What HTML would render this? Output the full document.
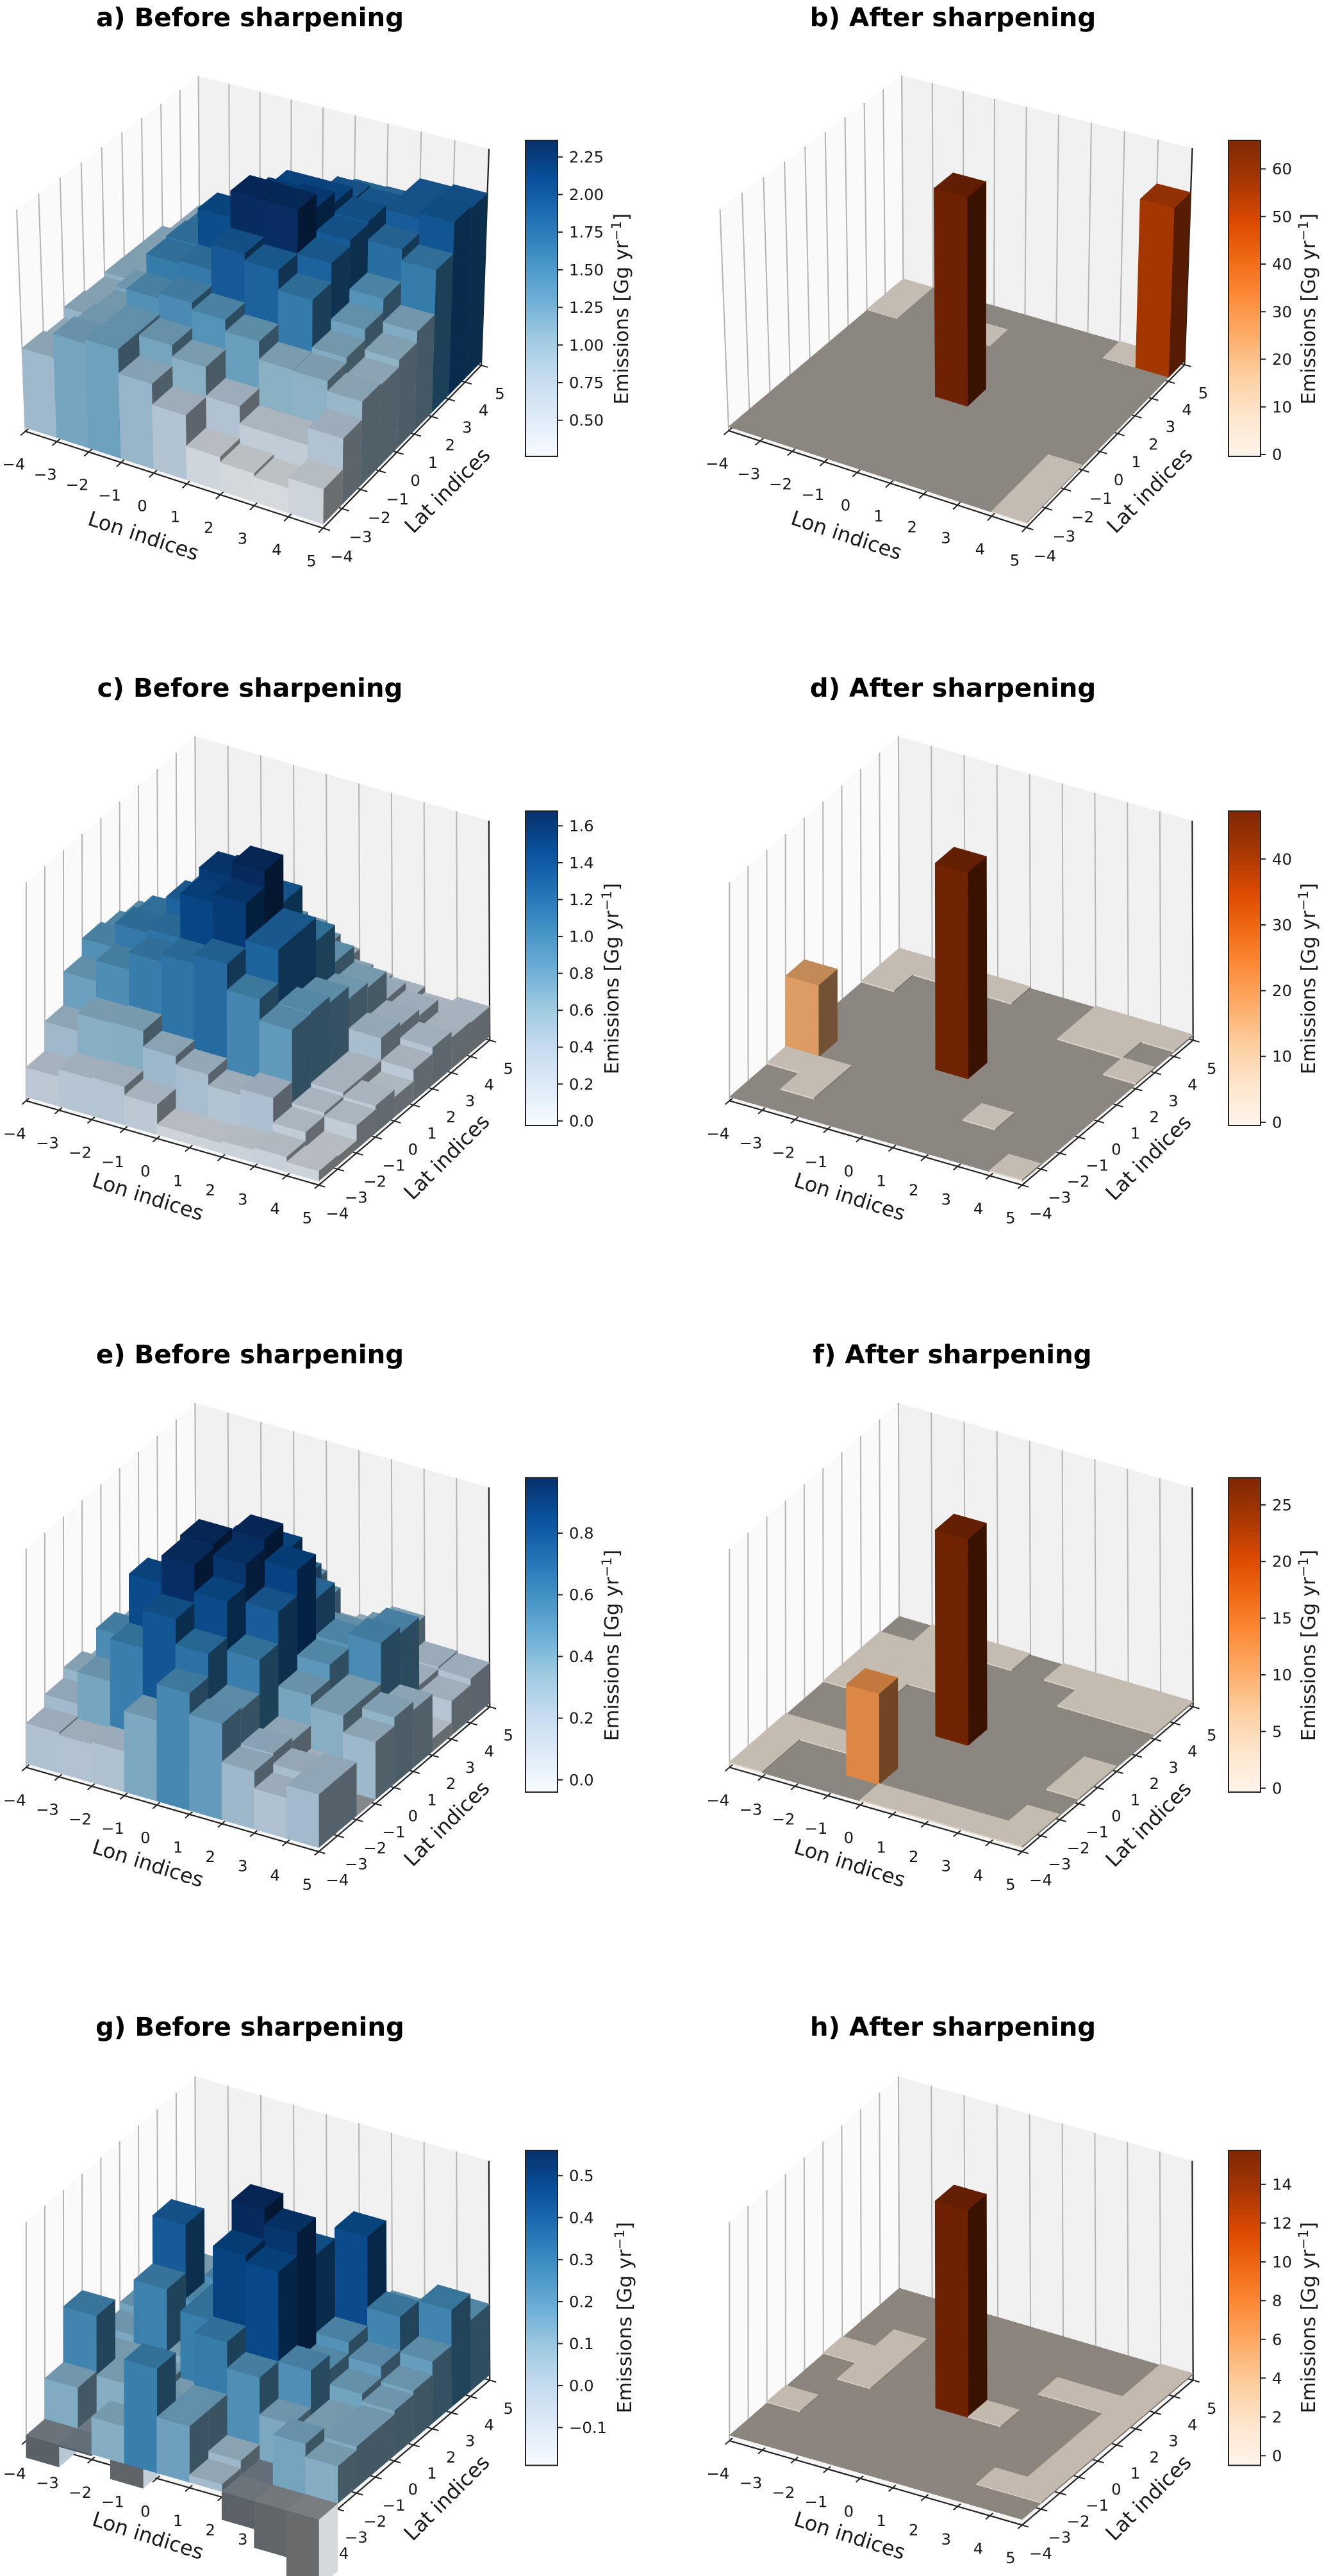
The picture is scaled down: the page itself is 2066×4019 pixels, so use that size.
<!DOCTYPE html>
<html>
<head>
<meta charset="utf-8">
<title>Emissions before and after sharpening</title>
<style>
html,body{margin:0;padding:0;background:#fff;}
svg{display:block;}
text{font-family:"DejaVu Sans","Liberation Sans",sans-serif;fill:#1a1a1a;}
.title{font-size:40.3px;font-weight:bold;fill:#000;text-anchor:middle;}
.axl{font-size:32px;text-anchor:middle;dominant-baseline:central;}
.cbl{font-size:30.4px;text-anchor:middle;}
</style>
</head>
<body>
<svg id="fig" xmlns="http://www.w3.org/2000/svg" width="2066" height="4019" viewBox="0 0 2066 4019">
<rect x="0" y="0" width="2066" height="4019" fill="#fff"/>

<text class="title" x="390" y="41">a) Before sharpening</text>
<text class="title" x="1487" y="41">b) After sharpening</text>
<text class="title" x="390" y="1087">c) Before sharpening</text>
<text class="title" x="1487" y="1087">d) After sharpening</text>
<text class="title" x="390" y="2127">e) Before sharpening</text>
<text class="title" x="1486" y="2127">f) After sharpening</text>
<text class="title" x="390" y="3176">g) Before sharpening</text>
<text class="title" x="1487" y="3176">h) After sharpening</text>

<text class="axl" transform="translate(224,836) rotate(18.3)">Lon indices</text>
<text class="axl" transform="translate(1321,835) rotate(18.3)">Lon indices</text>
<text class="axl" transform="translate(231,1867) rotate(17.5)">Lon indices</text>
<text class="axl" transform="translate(1326,1867) rotate(17.5)">Lon indices</text>
<text class="axl" transform="translate(231,2907) rotate(17.5)">Lon indices</text>
<text class="axl" transform="translate(1326,2907) rotate(17.5)">Lon indices</text>
<text class="axl" transform="translate(231,3956) rotate(17.5)">Lon indices</text>
<text class="axl" transform="translate(1326,3956) rotate(17.5)">Lon indices</text>

<text class="axl" transform="translate(698,765) rotate(-45)">Lat indices</text>
<text class="axl" transform="translate(1794,765) rotate(-45)">Lat indices</text>
<text class="axl" transform="translate(697,1805) rotate(-45)">Lat indices</text>
<text class="axl" transform="translate(1792,1806) rotate(-45)">Lat indices</text>
<text class="axl" transform="translate(697,2845) rotate(-45)">Lat indices</text>
<text class="axl" transform="translate(1792,2846) rotate(-45)">Lat indices</text>
<text class="axl" transform="translate(697,3897) rotate(-45)">Lat indices</text>
<text class="axl" transform="translate(1792,3897) rotate(-45)">Lat indices</text>

<text class="cbl" transform="translate(980,482) rotate(-90)">Emissions [Gg yr<tspan dy="-11" font-size="21">−1</tspan><tspan dy="11">]</tspan></text>
<text class="cbl" transform="translate(2052,482) rotate(-90)">Emissions [Gg yr<tspan dy="-11" font-size="21">−1</tspan><tspan dy="11">]</tspan></text>
<text class="cbl" transform="translate(965,1527) rotate(-90)">Emissions [Gg yr<tspan dy="-11" font-size="21">−1</tspan><tspan dy="11">]</tspan></text>
<text class="cbl" transform="translate(2052,1527) rotate(-90)">Emissions [Gg yr<tspan dy="-11" font-size="21">−1</tspan><tspan dy="11">]</tspan></text>
<text class="cbl" transform="translate(965,2567) rotate(-90)">Emissions [Gg yr<tspan dy="-11" font-size="21">−1</tspan><tspan dy="11">]</tspan></text>
<text class="cbl" transform="translate(2052,2567) rotate(-90)">Emissions [Gg yr<tspan dy="-11" font-size="21">−1</tspan><tspan dy="11">]</tspan></text>
<text class="cbl" transform="translate(985,3616) rotate(-90)">Emissions [Gg yr<tspan dy="-11" font-size="21">−1</tspan><tspan dy="11">]</tspan></text>
<text class="cbl" transform="translate(2052,3616) rotate(-90)">Emissions [Gg yr<tspan dy="-11" font-size="21">−1</tspan><tspan dy="11">]</tspan></text>
</svg>

<script>
// Tick categories
const lonCategories = [-4,-3,-2,-1,0,1,2,3,4,5];
const latCategories = [-4,-3,-2,-1,0,1,2,3,4,5];

// Emission grids: rows run from lat -4 (front) to lat 4, columns lon -4 to 4
const emissionsA = [
 [.89,1.16,1.21,.94,.71,.37,.31,.27,.38],
 [.85,1.12,1.21,1.17,1.04,.72,.53,.53,.72],
 [.97,1.09,1.39,1.45,1.37,1.24,1.04,1.03,.92],
 [.95,1.13,1.60,1.63,1.92,1.84,1.62,1.09,.90],
 [1.0,1.0,1.62,2.04,2.34,2.33,1.84,1.21,.98],
 [1.0,1.0,1.6,1.8,2.14,2.17,1.91,1.36,1.1],
 [1.0,1.0,1.4,1.6,2.05,2.05,1.94,1.73,1.6],
 [.9,1.0,1.2,1.5,1.7,1.9,1.87,1.9,1.96],
 [.9,.9,1.1,1.4,1.5,1.7,1.71,1.9,1.93]
];
const emissionsB = [
 [0,0,0,0,0,0,0,0,.3],
 [0,0,0,0,0,0,0,0,.3],
 [0,0,0,0,0,0,0,0,.3],
 [0,0,0,0,0,0,0,0,0],
 [0,0,0,0,66,0,0,0,0],
 [0,0,0,0,0,0,0,0,0],
 [0,0,0,0,0,0,0,0,0],
 [.3,0,0,.3,0,0,0,0,0],
 [.3,0,0,0,0,0,0,.3,54]
];
const emissionsC = [
 [.24,.30,.31,.24,.08,.08,.10,.12,.08],
 [.48,.62,.63,.50,.43,.34,.39,.19,.07],
 [.75,.92,1.06,1.12,1.19,.98,.81,.22,.19],
 [.89,1.09,1.12,1.48,1.55,1.25,.82,.25,.22],
 [.85,1.05,1.25,1.56,1.68,1.25,.77,.25,.16],
 [.8,.94,1.19,1.4,1.3,1.06,.67,.43,.25],
 [.7,.8,1.0,1.1,.85,.76,.63,.4,.3],
 [.5,.6,.8,.75,.65,.48,.41,.35,.25],
 [.4,.5,.6,.55,.4,.27,.25,.2,.24]
];
const emissionsD = [
 [0,0,0,0,0,0,0,0,.4],
 [0,.4,0,0,0,0,0,0,0],
 [.4,.4,0,0,0,0,.4,0,0],
 [16.5,0,0,0,0,0,0,0,0],
 [0,0,0,0,47,0,0,0,0],
 [0,0,0,0,0,0,0,0,0],
 [0,0,0,0,0,0,0,0,.4],
 [.4,0,0,0,0,0,.4,.4,0],
 [.4,.4,.4,.4,0,0,.4,.4,.4]
];
const emissionsE = [
 [.19,.18,.19,.38,.55,.45,.27,.19,.25],
 [.25,.40,.60,.78,.66,.44,.28,.23,.25],
 [.30,.53,.83,.96,.83,.60,.26,.15,0],
 [.25,.35,.60,.98,.93,.75,.40,.35,.27],
 [.3,.35,.78,.85,.97,.87,.47,.35,.31],
 [.3,.35,.6,.8,.83,.66,.49,.54,.27],
 [.3,.3,.5,.7,.63,.42,.42,.51,.06],
 [.2,.25,.4,.55,.44,.32,.37,.19,.16],
 [.2,.2,.3,.4,.22,.24,.32,.2,.19]
];
const emissionsF = [
 [.2,0,0,0,.2,.2,.2,.2,.2],
 [.2,0,0,12,0,0,0,0,.2],
 [.2,.2,.2,0,0,0,0,0,0],
 [0,0,0,0,0,0,0,0,.2],
 [0,0,0,0,27.2,0,0,0,.2],
 [.2,.2,0,0,0,0,0,0,0],
 [.2,.2,.2,0,0,0,0,0,0],
 [.2,.2,.2,0,0,0,.2,.2,.2],
 [0,.2,.2,.2,0,.2,.2,.2,.2]
];
const emissionsG = [
 [-.06,-.005,.10,.28,.15,.02,-.075,-.125,-.18],
 [.11,0,-.11,.12,.15,.04,-.005,.135,.10],
 [.26,.10,.12,.10,.29,.22,.12,.10,.11],
 [.10,.10,.08,.28,.48,.46,.22,.10,.11],
 [.12,.27,.10,.28,.56,.52,.18,.14,.12],
 [.14,.40,.20,.20,.30,.42,.21,.17,.13],
 [.10,.10,.22,.15,.25,.20,.45,.26,.165],
 [.08,.12,.20,.15,.15,.15,.2,.15,.26],
 [.10,.10,.12,.10,.1,.1,.15,.15,.19]
];
const emissionsH = [
 [0,0,0,0,0,0,0,0,0],
 [0,0,0,0,0,0,0,.1,.1],
 [.1,0,0,0,0,0,0,0,.1],
 [0,0,0,0,0,0,0,0,.1],
 [0,.1,0,0,15.7,.1,0,0,.1],
 [.1,.1,0,0,0,0,0,0,.1],
 [0,.1,0,0,0,0,.1,.1,.1],
 [0,0,0,0,0,0,0,0,.1],
 [0,0,0,0,0,0,0,0,.1]
];

// Colorbar tick labels
const cbarTicksA = ['0.50','0.75','1.00','1.25','1.50','1.75','2.00','2.25'];
const cbarTicksB = ['0','10','20','30','40','50','60'];
const cbarTicksC = ['0.0','0.2','0.4','0.6','0.8','1.0','1.2','1.4','1.6'];
const cbarTicksD = ['0','10','20','30','40'];
const cbarTicksE = ['0.0','0.2','0.4','0.6','0.8'];
const cbarTicksF = ['0','5','10','15','20','25'];
const cbarTicksG = ['-0.1','0.0','0.1','0.2','0.3','0.4','0.5'];
const cbarTicksH = ['0','2','4','6','8','10','12','14'];

// Colorbar ranges [min, max]
const rangeA = [0.26,2.36];
const rangeB = [-0.4,66];
const rangeC = [-0.025,1.68];
const rangeD = [-0.5,47.3];
const rangeE = [-0.04,0.98];
const rangeF = [-0.35,27.4];
const rangeG = [-0.19,0.56];
const rangeH = [-0.5,15.75];

// Colormap anchors
const blues = ['#f7fbff','#deebf7','#c6dbef','#9ecae1','#6baed6','#4292c6','#2171b5','#08519c','#08306b'];
const oranges = ['#fff5eb','#fee6ce','#fdd0a2','#fdae6b','#fd8d3c','#f16913','#d94801','#a63603','#7f2704'];

const SVGNS = 'http://www.w3.org/2000/svg';
const fig = document.getElementById('fig');

function hex2rgb(h){return [parseInt(h.slice(1,3),16),parseInt(h.slice(3,5),16),parseInt(h.slice(5,7),16)];}
function cmap(list,t){
  t=Math.max(0,Math.min(1,t))*(list.length-1);
  const k=Math.min(list.length-2,Math.floor(t)),f=t-k;
  const a=hex2rgb(list[k]),b=hex2rgb(list[k+1]);
  return [0,1,2].map(c=>a[c]+(b[c]-a[c])*f);
}
function css(rgb,s){return 'rgb('+rgb.map(c=>Math.round(c*s)).join(',')+')';}

// Square to quad projective mapping for a plane of the 3D box
function homography(q){
  const [p0,p1,p2,p3]=q;
  const dx1=p1[0]-p2[0],dx2=p3[0]-p2[0],dx3=p0[0]-p1[0]+p2[0]-p3[0];
  const dy1=p1[1]-p2[1],dy2=p3[1]-p2[1],dy3=p0[1]-p1[1]+p2[1]-p3[1];
  const den=dx1*dy2-dx2*dy1;
  const g=(dx3*dy2-dx2*dy3)/den,h=(dx1*dy3-dx3*dy1)/den;
  const a=p1[0]-p0[0]+g*p1[0],b=p3[0]-p0[0]+h*p3[0],c=p0[0];
  const d=p1[1]-p0[1]+g*p1[1],e=p3[1]-p0[1]+h*p3[1],f=p0[1];
  return (u,v)=>{const w=g*u+h*v+1;return [(a*u+b*v+c)/w,(d*u+e*v+f)/w];};
}

// Box frames: floor and top quads as [lon-min/lat-min, lon-max/lat-min, lon-max/lat-max, lon-min/lat-max]
const frameWide = {
  floor:[[39.5,673],[504,824],[751,570],[312,443]],
  top:[[26,327],[507.6,467],[763,232],[309.6,119]]
};
const frameNarrow = {
  floor:[[40.8,1717.4],[497.4,1848.9],[764.2,1622.9],[305.7,1487.8]],
  top:[[40.8,1376.3],[497.4,1504.7],[762.9,1280.5],[304.4,1149]]
};

function addPoly(parent,pts,fill,stroke){
  const el=document.createElementNS(SVGNS,'polygon');
  el.setAttribute('points',pts.map(p=>p[0].toFixed(1)+','+p[1].toFixed(1)).join(' '));
  el.setAttribute('fill',fill);
  if(stroke){el.setAttribute('stroke',stroke);el.setAttribute('stroke-width','0.6');}
  parent.appendChild(el);
  return el;
}
function addLine(parent,a,b,color,w){
  const el=document.createElementNS(SVGNS,'line');
  el.setAttribute('x1',a[0].toFixed(1));el.setAttribute('y1',a[1].toFixed(1));
  el.setAttribute('x2',b[0].toFixed(1));el.setAttribute('y2',b[1].toFixed(1));
  el.setAttribute('stroke',color);el.setAttribute('stroke-width',w);
  parent.appendChild(el);
  return el;
}
function addText(parent,x,y,str,anchor){
  const el=document.createElementNS(SVGNS,'text');
  el.setAttribute('x',x.toFixed(1));el.setAttribute('y',y.toFixed(1));
  el.setAttribute('font-size','24.3');
  el.setAttribute('text-anchor',anchor);
  el.setAttribute('dominant-baseline','central');
  el.textContent=str;
  parent.appendChild(el);
  return el;
}
function fmtTick(v){return String(v).replace('-','\u2212');}

function drawPanel(id,grid,range,ticks,colors,frame,dx,dy,opts){
  const g=document.createElementNS(SVGNS,'g');
  
  
  g.setAttribute('transform','translate('+dx+','+dy+')');
  fig.appendChild(g);

  const F=homography(frame.floor),T=homography(frame.top);
  const P=(u,v,t)=>{const a=F(u,v),b=T(u,v);return [a[0]+(b[0]-a[0])*t,a[1]+(b[1]-a[1])*t];};
  const vmin=range[0],vmax=range[1];
  const Z=v=>opts.t0+opts.s*v/vmax;
  const norm=v=>(v-vmin)/(vmax-vmin);
  const n=lonCategories.length-1;
  const lonU=x=>(x-lonCategories[0])/n;
  const latV=y=>(y-latCategories[0])/n;

  // Panes
  const pane=document.createElementNS(SVGNS,'g');
  
  
  g.appendChild(pane);
  const leftWall=addPoly(pane,[P(0,0,0),P(0,1,0),P(0,1,1),P(0,0,1)],'#fafafa');
  
  
  const backWall=addPoly(pane,[P(0,1,0),P(1,1,0),P(1,1,1),P(0,1,1)],'#f1f1f1');
  
  
  const floorPane=addPoly(pane,[P(0,0,0),P(1,0,0),P(1,1,0),P(0,1,0)],'#f5f5f5');
  
  

  // Vertical grid lines
  latCategories.forEach(y=>{
    const v=latV(y);
    const l=addLine(pane,P(0,v,0),P(0,v,1),'#b4b4b4',2);
    
    
  });
  lonCategories.forEach(x=>{
    const u=lonU(x);
    const l=addLine(pane,P(u,1,0),P(u,1,1),'#b4b4b4',2);
    
    
  });
  const edge=addLine(pane,P(1,1,0),P(1,1,1),'#222',2.2);
  
  

  // Axes lines, ticks and labels
  const axes=document.createElementNS(SVGNS,'g');
  
  
  g.appendChild(axes);
  const xLine=addLine(axes,P(0,0,0),P(1,0,0),'#222',2.2);
  
  
  const yLine=addLine(axes,P(1,0,0),P(1,1,0),'#222',2.2);
  
  
  lonCategories.forEach(x=>{
    const u=lonU(x);
    const tk=addLine(axes,P(u,-0.025,0),P(u,0.018,0),'#222',2);
    
    
    const p=P(u,0,0);
    const lab=addText(axes,p[0]-18,p[1]+51,fmtTick(x),'middle');
    
    
  });
  latCategories.forEach(y=>{
    const v=latV(y);
    const tk=addLine(axes,P(0.975,v,0),P(1.022,v,0),'#222',2);
    
    
    const p=P(1,v,0);
    const lab=addText(axes,p[0]+29,p[1]+44,fmtTick(y),'middle');
    
    
  });

  // Bars, painted from back to front
  for(let j=grid.length-1;j>=0;j--){
    for(let i=0;i<grid[j].length;i++){
      const val=grid[j][i];
      const u0=i/n,u1=(i+1)/n,v0=j/n,v1=(j+1)/n;
      const base=Z(0),end=Z(val);
      const rgb=cmap(colors,norm(val));
      const bar=document.createElementNS(SVGNS,'g');
      
      
      g.appendChild(bar);
      if(val>0){
        const ct=css(rgb,.77),cr=css(rgb,.45),cf=css(rgb,.87);
        addPoly(bar,[P(u1,v0,base),P(u1,v1,base),P(u1,v1,end),P(u1,v0,end)],cr,cr);
        addPoly(bar,[P(u0,v0,base),P(u1,v0,base),P(u1,v0,end),P(u0,v0,end)],cf,cf);
        addPoly(bar,[P(u0,v0,end),P(u1,v0,end),P(u1,v1,end),P(u0,v1,end)],ct,ct);
      }else if(val<0){
        const ct=css(rgb,.5),cr=css(rgb,.87),cf=css(rgb,.42);
        addPoly(bar,[P(u1,v0,base),P(u1,v1,base),P(u1,v1,end),P(u1,v0,end)],cr,cr);
        addPoly(bar,[P(u0,v0,base),P(u1,v0,base),P(u1,v0,end),P(u0,v0,end)],cf,cf);
        addPoly(bar,[P(u0,v0,base),P(u1,v0,base),P(u1,v1,base),P(u0,v1,base)],ct,ct);
      }else{
        const ct=css(rgb,.55);
        addPoly(bar,[P(u0,v0,base),P(u1,v0,base),P(u1,v1,base),P(u0,v1,base)],ct,ct);
      }
    }
  }

  // Colorbar
  const cb=document.createElementNS(SVGNS,'g');
  
  
  fig.appendChild(cb);
  const gradId='grad-'+id;
  const defs=document.createElementNS(SVGNS,'defs');
  const lg=document.createElementNS(SVGNS,'linearGradient');
  lg.setAttribute('id',gradId);
  lg.setAttribute('x1','0');lg.setAttribute('y1','1');lg.setAttribute('x2','0');lg.setAttribute('y2','0');
  colors.forEach((c,k)=>{
    const st=document.createElementNS(SVGNS,'stop');
    st.setAttribute('offset',(k/(colors.length-1)).toFixed(4));
    st.setAttribute('stop-color',c);
    lg.appendChild(st);
  });
  defs.appendChild(lg);
  cb.appendChild(defs);
  const bx=opts.cbX,bw=50,by=opts.cbTop,bh=opts.cbBottom-opts.cbTop;
  const rect=document.createElementNS(SVGNS,'rect');
  
  
  rect.setAttribute('x',bx);rect.setAttribute('y',by);
  rect.setAttribute('width',bw);rect.setAttribute('height',bh);
  rect.setAttribute('fill','url(#'+gradId+')');
  rect.setAttribute('stroke','#222');rect.setAttribute('stroke-width','2');
  cb.appendChild(rect);
  ticks.forEach(tl=>{
    const yy=by+bh*(vmax-parseFloat(tl))/(vmax-vmin);
    const tk=addLine(cb,[bx+bw,yy],[bx+bw+8,yy],'#222',2);
    
    
    const lab=addText(cb,bx+bw+18,yy,fmtTick(tl),'start');
    
    
  });
}

const rightX = 1097.5;

drawPanel('a',emissionsA,rangeA,cbarTicksA,blues,frameWide,0,0,{t0:.018,s:.95,cbX:820,cbTop:219,cbBottom:712});
drawPanel('b',emissionsB,rangeB,cbarTicksB,oranges,frameWide,rightX,-1,{t0:.018,s:.95,cbX:1917,cbTop:219,cbBottom:712});
drawPanel('c',emissionsC,rangeC,cbarTicksC,blues,frameNarrow,0,0,{t0:.018,s:.95,cbX:820,cbTop:1265.4,cbBottom:1756});
drawPanel('d',emissionsD,rangeD,cbarTicksD,oranges,frameNarrow,rightX,0,{t0:.018,s:.95,cbX:1917,cbTop:1265.4,cbBottom:1756});
drawPanel('e',emissionsE,rangeE,cbarTicksE,blues,frameNarrow,0,1040,{t0:.018,s:.95,cbX:820,cbTop:2305.4,cbBottom:2796});
drawPanel('f',emissionsF,rangeF,cbarTicksF,oranges,frameNarrow,rightX,1040,{t0:.018,s:.95,cbX:1917,cbTop:2305.4,cbBottom:2796});
drawPanel('g',emissionsG,rangeG,cbarTicksG,blues,frameNarrow,0,2090.6,{t0:.025,s:.95,cbX:820,cbTop:3355,cbBottom:3846.4});
drawPanel('h',emissionsH,rangeH,cbarTicksH,oranges,frameNarrow,rightX,2090.6,{t0:.025,s:.95,cbX:1917,cbTop:3355,cbBottom:3846.4});
</script>
</body>
</html>
